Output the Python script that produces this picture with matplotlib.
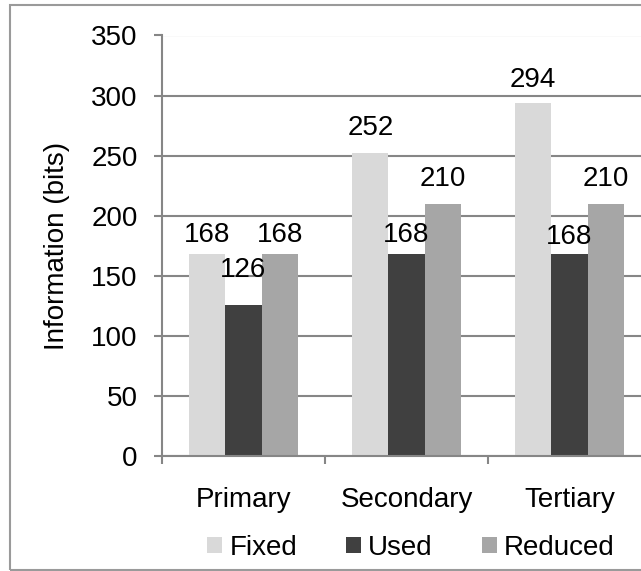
import matplotlib
matplotlib.use('Agg')
import matplotlib.pyplot as plt
from matplotlib.patches import Rectangle
import numpy as np

categories = ['Primary', 'Secondary', 'Tertiary']
series_names = ['Fixed', 'Used', 'Reduced']
fixed = [168, 252, 294]
used = [126, 168, 168]
reduced = [168, 210, 210]
y_ticks = [0, 50, 100, 150, 200, 250, 300, 350]

colors = ['#D9D9D9', '#404040', '#A6A6A6']
# gap (px) between bar top and label baseline, as Excel placed them
label_gap = [[12, 18, 16], [28, 12, 10], [12, 18, 18]]

plt.rcParams['font.family'] = ['Liberation Sans', 'DejaVu Sans']
fz = 20
grey = '#868686'

fig = plt.figure(figsize=(6.41, 5.71), dpi=100)
ax = fig.add_axes([162 / 641, 1 - 456 / 571, 489 / 641, 420.5 / 571])

x = np.arange(len(categories))
w = 1 / 4.5
all_series = [fixed, used, reduced]
for i, vals in enumerate(all_series):
    pos = x + (i - 1) * w
    ax.bar(pos, vals, width=w, color=colors[i], label=series_names[i], zorder=2)
    for j, v in enumerate(vals):
        ax.annotate(str(v), (pos[j], v), xytext=(0, label_gap[i][j] * 0.72),
                    textcoords='offset points', ha='center', va='baseline',
                    fontsize=fz, color='black')

ax.set_xlim(-0.5, -0.5 + 489 / 163)
ax.set_ylim(0, 350)
ax.set_yticks(y_ticks)
ax.set_yticklabels([str(t) for t in y_ticks])
ax.yaxis.grid(True, color=grey, linewidth=1.5, zorder=0)
ax.set_axisbelow(True)

ax.set_xticks(x)
ax.set_xticklabels(categories)
ax.set_xticks([-0.5, 0.5, 1.5, 2.5], minor=True)
ax.tick_params(axis='x', which='major', length=0, pad=22, labelsize=fz)
ax.tick_params(axis='x', which='minor', length=5.5, width=1.5, color=grey, direction='out')
ax.tick_params(axis='y', length=5.5, width=1.5, color=grey, direction='out', pad=12, labelsize=fz)

for s in ['top', 'right']:
    ax.spines[s].set_visible(False)
for s in ['left', 'bottom']:
    ax.spines[s].set_color(grey)
    ax.spines[s].set_linewidth(1.5)

ax.set_ylabel('Information (bits)', fontsize=fz)
ax.yaxis.set_label_coords(70 / 641, 1 - 246 / 571, transform=fig.transFigure)

fig.legend(loc='center', bbox_to_anchor=(411 / 641, 1 - 548 / 571), ncol=3,
           frameon=False, fontsize=fz, handlelength=0.54, handleheight=0.54,
           handletextpad=0.26, columnspacing=1.75)

# chart border like the Excel chart area
fig.patches.append(Rectangle((10 / 641, 1 / 571), 1.0, 1 - 6 / 571,
                             transform=fig.transFigure, fill=False,
                             edgecolor='#9A9A9A', linewidth=1.5))

plt.savefig('out.png', dpi=100)
